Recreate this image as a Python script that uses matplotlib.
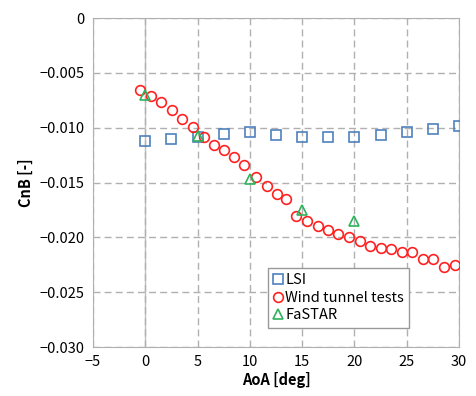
import numpy as np
import matplotlib.pyplot as plt
from matplotlib.ticker import FuncFormatter

plt.rcParams['font.family'] = ['Noto Sans CJK JP', 'DejaVu Sans']

# LSI
lsi_aoa = [0, 2.5, 5, 7.5, 10, 12.5, 15, 17.5, 20, 22.5, 25, 27.5, 30]
lsi_cnb = [-0.01122, -0.01106, -0.01082, -0.01055, -0.01039, -0.01064, -0.01085,
           -0.01088, -0.01085, -0.01067, -0.01039, -0.01012, -0.00988]

# Wind tunnel tests
wt_aoa = [-0.5, 0.55, 1.5, 2.55, 3.55, 4.6, 5.6, 6.6, 7.5, 8.45, 9.45, 10.6, 11.6,
          12.6, 13.5, 14.45, 15.45, 16.5, 17.45, 18.45, 19.5, 20.5, 21.5, 22.5,
          23.5, 24.55, 25.55, 26.55, 27.55, 28.6, 29.6]
wt_cnb = [-0.00657, -0.00711, -0.00769, -0.00842, -0.00924, -0.00997, -0.01088,
          -0.01155, -0.01204, -0.01264, -0.01343, -0.0145, -0.01532, -0.01602,
          -0.01652, -0.01802, -0.01851, -0.01897, -0.01933, -0.01967, -0.02,
          -0.02036, -0.02076, -0.02094, -0.02109, -0.02137, -0.02134, -0.02198,
          -0.02198, -0.0227, -0.02255]

# FaSTAR
fa_aoa = [0, 5, 10, 15, 20]
fa_cnb = [-0.00705, -0.0108, -0.01465, -0.0175, -0.01855]

fig = plt.figure(figsize=(4.76, 3.96), dpi=100)
ax = fig.add_axes([0.1954, 0.1237, 0.7689, 0.8308])

ax.plot(lsi_aoa, lsi_cnb, 's', ls='none', ms=6.5, mfc='none', mec='#4F81BD', mew=1.2,
        label='LSI', zorder=3)
ax.plot(wt_aoa, wt_cnb, 'o', ls='none', ms=7, mfc='none', mec='#FF2020', mew=1.2,
        label='Wind tunnel tests', zorder=3)
ax.plot(fa_aoa, fa_cnb, '^', ls='none', ms=7, mfc='none', mec='#2DB35A', mew=1.2,
        label='FaSTAR', zorder=4)

ax.set_xlim(-5, 30)
ax.set_ylim(-0.030, 0)
ax.set_xticks(np.arange(-5, 31, 5))
ax.set_yticks(np.arange(-0.030, 0.0001, 0.005))

def yfmt(v, pos):
    if abs(v) < 1e-9:
        return '0'
    return f'{v:.3f}'.replace('-', '\u2212')

def xfmt(v, pos):
    return f'{v:.0f}'.replace('-', '\u2212')

ax.yaxis.set_major_formatter(FuncFormatter(yfmt))
ax.xaxis.set_major_formatter(FuncFormatter(xfmt))
ax.tick_params(length=0, labelsize=10.5, pad=6)

ax.grid(True, color='#B0B0B0', ls=(0, (5, 3)), lw=1)
ax.axvline(0, color='#C0C0C0', lw=1, zorder=1)
for s in ax.spines.values():
    s.set_color('#B0B0B0')

ax.set_xlabel('AoA [deg]', fontsize=10.5, fontweight='bold', labelpad=2)
ax.set_ylabel('CnB [-]', fontsize=10.5, fontweight='bold', labelpad=4)

leg = ax.legend(loc='lower left', bbox_to_anchor=(0.459, 0.037), fontsize=10.5,
                handlelength=0.6, handletextpad=0.2, borderpad=0.35,
                labelspacing=0.25, fancybox=False, framealpha=1,
                edgecolor='#999999')
leg.get_frame().set_linewidth(1)

fig.savefig('out.png', dpi=100)
